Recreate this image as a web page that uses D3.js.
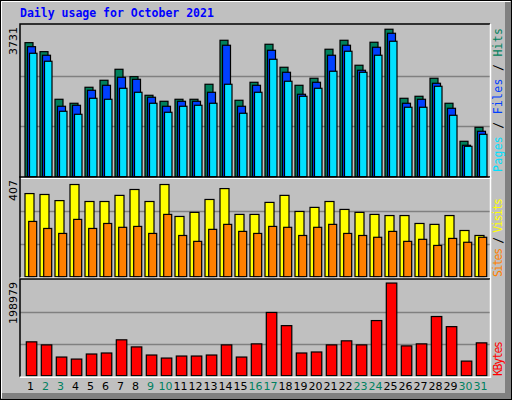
<!DOCTYPE html>
<html><head><meta charset="utf-8">
<script src="https://cdn.jsdelivr.net/npm/d3@7"></script>
<style>body{margin:0;background:#fff}</style></head>
<body><svg id="c" width="512" height="400"></svg>
<script>
const days = d3.range(1,32).map(String);
const weekend = ["2","3","9","10","16","17","23","24","30","31"];
const hits = [3392,3164,1959,1858,2263,2440,2718,2531,2060,1908,1959,1959,2339,3452,1934,2389,3351,2769,2313,2491,3225,3452,2820,3402,3731,1984,2035,2491,1858,896,1250];
const files = [3290,3073,1782,1807,2187,2313,2516,2465,2010,1782,1908,1908,2136,3326,1782,2313,3199,2642,2086,2389,3073,3326,2693,3275,3629,1858,1959,2364,1731,795,1149];
const pages = [3123,2921,1655,1579,1984,1959,2237,2136,1858,1630,1782,1807,1858,2339,1605,2136,2971,2415,2035,2237,2668,3174,2642,3073,3427,1757,1757,2288,1554,769,1073];
const visits = [367,363,336,407,332,332,359,385,332,407,266,284,341,389,275,275,328,359,288,306,332,297,284,275,270,270,235,231,270,204,182];
const sites = [244,213,191,253,213,235,218,222,191,275,182,156,209,231,200,191,222,218,182,218,231,191,182,174,200,156,165,138,169,152,174];
const kbytes = [72712,66181,40057,35703,46588,48765,77066,61827,44411,37880,42234,42234,44411,66181,40057,68358,135845,107544,48765,50942,66181,74889,66181,118429,198979,64004,68358,127137,105367,31349,70535];
const maxLabels = ["3731","407","198979"];

const svg = d3.select("#c");
svg.append("rect").attr("x",0).attr("y",0).attr("width",512).attr("height",400).attr("fill","#c0c0c0");
svg.append("rect").attr("x",0.5).attr("y",0.5).attr("width",511).attr("height",399).attr("fill","none").attr("stroke","#000");
svg.append("path").attr("d","M1.5,398V1.5H510").attr("fill","none").attr("stroke","#fff");
svg.append("rect").attr("x",505).attr("y",2).attr("width",6).attr("height",397).attr("fill","#808080");
svg.append("rect").attr("x",2).attr("y",393).attr("width",509).attr("height",6).attr("fill","#808080");

svg.append("text").attr("x",20).attr("y",17).text("Daily usage for October 2021")
  .attr("font-family","DejaVu Sans Mono").attr("font-weight","bold").attr("font-size",11.5).attr("fill","#0000ff");

const x = d3.scaleBand().domain(days).range([21,486]);
const bw = x.bandwidth();
const L=20, R=490;

const panels = [
  {top:25, bot:176.7, max:3731, ser:[[hits,"#00805c",4,8],[files,"#0040ff",6.5,8],[pages,"#00e0ff",8.5,7.5]]},
  {top:178, bot:276.7, max:407, ser:[[visits,"#ffff00",4,9],[sites,"#ff8000",7.7,8]]},
  {top:280, bot:375.7, max:198979, ser:[[kbytes,"#ff0000",5.3,10.5]]}
];
const fracs=[0.972,0.934,0.968];
panels.forEach((p,pi)=>{
  const h=p.bot-p.top;
  const y=d3.scaleLinear().domain([0,p.max/fracs[pi]]).range([p.bot,p.top]);
  [1/3,2/3].forEach(f=>{
    const gy=Math.round(p.bot-h*f)+0.5;
    svg.append("line").attr("x1",L).attr("x2",R).attr("y1",gy).attr("y2",gy).attr("stroke","#808080").attr("stroke-width",1.5);
  });
  p.ser.forEach(([vals,col,off,w])=>{
    svg.append("g").selectAll("rect").data(vals).join("rect")
      .attr("x",(d,i)=>x(days[i])+off).attr("width",w)
      .attr("y",d=>y(d)).attr("height",d=>p.bot-y(d))
      .attr("fill",col).attr("stroke","#000").attr("stroke-width",1.2);
  });
  svg.append("path").attr("d",`M${L},${p.bot+1}V${p.top-1}H${R}`).attr("fill","none").attr("stroke","#000").attr("stroke-width",1.5);
  svg.append("path").attr("d",`M${L},${p.bot+1.5}H${R+0.5}V${p.top-1}`).attr("fill","none").attr("stroke","#fff").attr("stroke-width",1.5);
  svg.append("text").attr("transform",`translate(17,${p.top+2}) rotate(-90)`).attr("text-anchor","end")
    .attr("font-family","DejaVu Sans").attr("font-size",11).attr("fill","#000").text(maxLabels[pi]);
});

function rlabel(parts, xpos, ybot, len){
  const t=svg.append("text").attr("transform",`translate(${xpos},${ybot}) rotate(-90)`)
    .attr("font-family","DejaVu Sans Mono").attr("font-size",11.5)
    .attr("textLength",len).attr("lengthAdjust","spacing");
  parts.forEach(([s,c])=>t.append("tspan").text(s).attr("fill",c));
}
rlabel([["Pages","#00e0ff"],[" / ","#000"],["Files","#0040ff"],[" / ","#000"],["Hits","#00805c"]],502,172,144);
rlabel([["Sites","#ff8000"],[" / ","#000"],["Visits","#ffff00"]],502,277,79);
rlabel([["KBytes","#ff0000"]],502,376,35);

svg.append("g").selectAll("text").data(days).join("text")
  .attr("x",d=>x(d)+bw/2+2).attr("y",390).attr("text-anchor","middle")
  .attr("font-family","DejaVu Sans").attr("font-size",11)
  .attr("fill",d=>weekend.includes(d)?"#008060":"#000").text(d=>d);
</script></body></html>
